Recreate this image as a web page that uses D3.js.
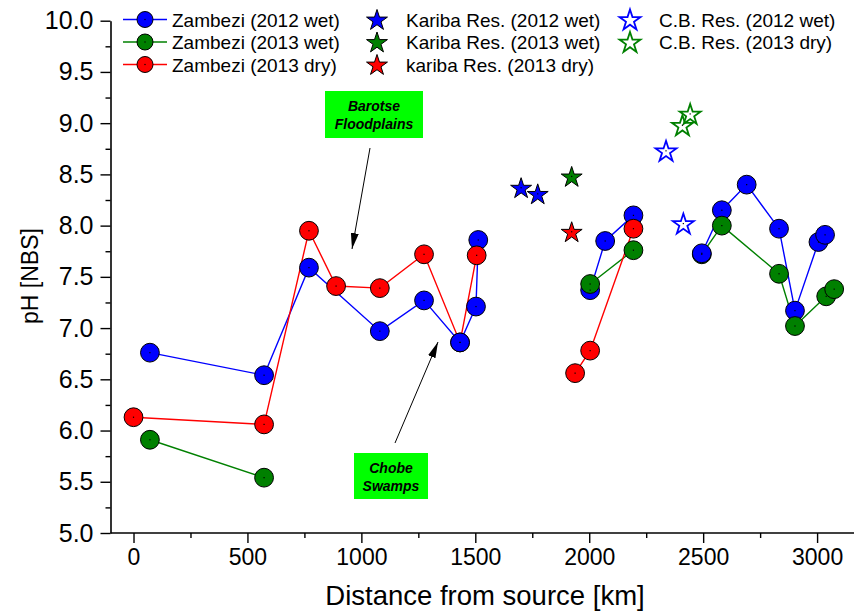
<!DOCTYPE html>
<html>
<head>
<meta charset="utf-8">
<script src="https://cdn.jsdelivr.net/npm/d3@7"></script>
<style>
    body { margin: 0; background: #fff; }
    text { font-family: "Liberation Sans", Arial, sans-serif; }
</style>
</head>
<body>
<div id="chart"></div>
<script>
// Zambezi river transects (null = break in the line)
let blueKm = [72, 573, 770, 1081, 1275, 1433, 1503, 1513, null, 2004, 2070, 2194, null, 2494, 2582, 2691, 2833, 2903, 3006, 3035];
let bluePh = [6.76, 6.54, 7.59, 6.97, 7.27, 6.86, 7.21, 7.86, null, 7.37, 7.85, 8.10, null, 7.73, 8.15, 8.40, 7.97, 7.17, 7.84, 7.91];

let greenKm = [72, 573, null, 2004, 2194, null, 2494, 2582, 2833, 2903, 3040, 3075];
let greenPh = [5.91, 5.54, null, 7.43, 7.76, null, 7.72, 8.00, 7.53, 7.02, 7.31, 7.38];

let redKm = [0, 573, 770, 889, 1081, 1275, 1433, 1506, null, 1938, 2004, 2194];
let redPh = [6.13, 6.06, 7.95, 7.41, 7.39, 7.72, 6.86, 7.71, null, 6.56, 6.78, 7.97];

// Reservoirs
let kariba2012WetKm = [1701, 1774];
let kariba2012WetPh = [8.37, 8.31];
let kariba2013WetKm = [1923];
let kariba2013WetPh = [8.48];
let kariba2013DryKm = [1923];
let kariba2013DryPh = [7.94];
let cb2012WetKm = [2337, 2413];
let cb2012WetPh = [8.73, 8.02];
let cb2013DryKm = [2409, 2443];
let cb2013DryPh = [8.98, 9.09];

let xTicks = [0, 500, 1000, 1500, 2000, 2500, 3000];
let xMinor = [250, 750, 1250, 1750, 2250, 2750];
let yTicks = [5.0, 5.5, 6.0, 6.5, 7.0, 7.5, 8.0, 8.5, 9.0, 9.5, 10.0];
let yMinor = [5.25, 5.75, 6.25, 6.75, 7.25, 7.75, 8.25, 8.75, 9.25, 9.75];

let legendCircles = ["Zambezi (2012 wet)", "Zambezi (2013 wet)", "Zambezi (2013 dry)"];
let legendKariba = ["Kariba Res. (2012 wet)", "Kariba Res. (2013 wet)", "kariba Res. (2013 dry)"];
let legendCB = ["C.B. Res. (2012 wet)", "C.B. Res. (2013 dry)"];

function drawChart() {

    let plotWidth = 854;
    let plotHeight = 613;

    let blue = "#0000ff", green = "#008000", red = "#ff0000";

    let svg = d3.select("#chart")
        .append("svg")
        .attr("width", plotWidth)
        .attr("height", plotHeight);

    let xScale = d3.scaleLinear()
        .domain([-101, 3162])
        .range([110.5, 854]);

    let yScale = d3.scaleLinear()
        .domain([5, 10])
        .range([533, 20.7]);

    // axes
    let xAxis = svg.append("g")
        .attr("transform", `translate(0, ${yScale(5)})`)
        .call(d3.axisBottom(xScale).tickValues(xTicks).tickSize(10).tickPadding(6).tickFormat(d3.format("d")));
    svg.append("g")
        .attr("transform", `translate(0, ${yScale(5)})`)
        .call(d3.axisBottom(xScale).tickValues(xMinor).tickSize(5).tickFormat(""))
        .select(".domain").remove();

    let yAxis = svg.append("g")
        .attr("transform", `translate(${xScale.range()[0]}, 0)`)
        .call(d3.axisLeft(yScale).tickValues(yTicks).tickSize(10).tickPadding(7).tickFormat(d3.format(".1f")).tickSizeOuter(0));
    svg.append("g")
        .attr("transform", `translate(${xScale.range()[0]}, 0)`)
        .call(d3.axisLeft(yScale).tickValues(yMinor).tickSize(5).tickFormat(""))
        .select(".domain").remove();

    svg.selectAll(".domain").attr("stroke-width", 1.6);
    svg.selectAll(".tick line").attr("stroke-width", 1.4);

    xAxis.select(".domain").attr("d", `M${xScale.range()[0]},0H${xScale.range()[1]}`);
    xAxis.selectAll(".tick text")
        .attr("font-size", "23px")
        .attr("font-family", "'Liberation Sans', Arial, sans-serif")
        .attr("fill", "#000");
    yAxis.selectAll(".tick text")
        .attr("font-size", "25px")
        .attr("font-family", "'Liberation Sans', Arial, sans-serif")
        .attr("fill", "#000");

    svg.append("text")
        .attr("x", 485)
        .attr("y", 605)
        .attr("text-anchor", "middle")
        .attr("font-size", "27.5px")
        .text("Distance from source [km]");

    svg.append("text")
        .attr("transform", "translate(38, 276) rotate(-90)")
        .attr("text-anchor", "middle")
        .attr("font-size", "23px")
        .text("pH [NBS]");

    // lines
    let line = d3.line()
        .defined(d => d[0] !== null)
        .x(d => xScale(d[0]))
        .y(d => yScale(d[1]));

    let series = [
        {km: blueKm, ph: bluePh, color: blue},
        {km: greenKm, ph: greenPh, color: green},
        {km: redKm, ph: redPh, color: red}
    ];

    series.forEach(function(s) {
        svg.append("path")
            .datum(s.km.map((k, i) => [k, s.ph[i]]))
            .attr("d", line)
            .attr("fill", "none")
            .attr("stroke", s.color)
            .attr("stroke-width", 1.4);
    });

    // circles: green/red points sitting on a blue point go underneath
    let bluePts = [];
    blueKm.forEach((k, i) => { if (k !== null) bluePts.push({km: k, ph: bluePh[i], color: blue}); });
    let under = [], over = [];
    series.slice(1).forEach(function(s) {
        s.km.forEach(function(k, i) {
            if (k === null) return;
            let p = {km: k, ph: s.ph[i], color: s.color};
            let hidden = bluePts.some(b => Math.abs(b.km - k) < 5 && Math.abs(b.ph - p.ph) < 0.05);
            (hidden ? under : over).push(p);
        });
    });
    let allPts = under.concat(bluePts, over);

    svg.append("g").selectAll("circle")
        .data(allPts)
        .enter()
        .append("circle")
        .attr("cx", d => xScale(d.km))
        .attr("cy", d => yScale(d.ph))
        .attr("r", 9.4)
        .attr("fill", d => d.color)
        .attr("stroke", "#000")
        .attr("stroke-width", 1);

    // stars
    let star = d3.symbol().type(d3.symbolStar).size(136);
    let stars = [
        {km: kariba2012WetKm, ph: kariba2012WetPh, color: blue, open: false},
        {km: kariba2013WetKm, ph: kariba2013WetPh, color: green, open: false},
        {km: kariba2013DryKm, ph: kariba2013DryPh, color: red, open: false},
        {km: cb2012WetKm, ph: cb2012WetPh, color: blue, open: true},
        {km: cb2013DryKm, ph: cb2013DryPh, color: green, open: true}
    ];
    let starPts = [];
    stars.forEach(s => s.km.forEach((k, i) => starPts.push({km: k, ph: s.ph[i], color: s.color, open: s.open})));

    svg.append("g").selectAll("path")
        .data(starPts)
        .enter()
        .append("path")
        .attr("d", star)
        .attr("transform", d => `translate(${xScale(d.km)}, ${yScale(d.ph) + 1})`)
        .attr("fill", d => d.open ? "#fff" : d.color)
        .attr("stroke", d => d.open ? d.color : "#000")
        .attr("stroke-width", d => d.open ? 1.8 : 1);

    // centre dots
    svg.append("g").selectAll("rect")
        .data(allPts.concat(starPts))
        .enter()
        .append("rect")
        .attr("x", d => xScale(d.km) - 0.6)
        .attr("y", d => yScale(d.ph) - 0.6)
        .attr("width", 1.2)
        .attr("height", 1.2)
        .attr("fill", "#000");

    // annotations
    let notes = [
        {x: 325, y: 91, w: 98, h: 47, lines: ["Barotse", "Floodplains"], from: [370, 148], to: [352, 249]},
        {x: 354, y: 453, w: 74, h: 46, lines: ["Chobe", "Swamps"], from: [395, 443], to: [438, 342]}
    ];
    svg.append("defs").append("marker")
        .attr("id", "head")
        .attr("viewBox", "0 0 16 8")
        .attr("refX", 16)
        .attr("refY", 4)
        .attr("markerWidth", 16)
        .attr("markerHeight", 8)
        .attr("markerUnits", "userSpaceOnUse")
        .attr("orient", "auto")
        .append("path")
        .attr("d", "M0,0L16,4L0,8Z")
        .attr("fill", "#000");

    notes.forEach(function(n) {
        svg.append("rect")
            .attr("x", n.x).attr("y", n.y)
            .attr("width", n.w).attr("height", n.h)
            .attr("fill", "#00ff00");
        n.lines.forEach(function(t, i) {
            svg.append("text")
                .attr("x", n.x + n.w / 2)
                .attr("y", n.y + 20 + i * 18)
                .attr("text-anchor", "middle")
                .attr("font-size", "14px")
                .attr("font-weight", "bold")
                .attr("font-style", "italic")
                .text(t);
        });
        svg.append("line")
            .attr("x1", n.from[0]).attr("y1", n.from[1])
            .attr("x2", n.to[0]).attr("y2", n.to[1])
            .attr("stroke", "#000")
            .attr("stroke-width", 1)
            .attr("marker-end", "url(#head)");
    });

    // legend
    let rows = [19.5, 42, 64.5];
    let legendColors = [blue, green, red];
    let legend = svg.append("g");

    legendCircles.forEach(function(t, i) {
        legend.append("line")
            .attr("x1", 123).attr("x2", 167)
            .attr("y1", rows[i]).attr("y2", rows[i])
            .attr("stroke", legendColors[i]).attr("stroke-width", 1.4);
        legend.append("circle")
            .attr("cx", 145).attr("cy", rows[i]).attr("r", 8)
            .attr("fill", legendColors[i]).attr("stroke", "#000");
        legend.append("rect")
            .attr("x", 144.4).attr("y", rows[i] - 0.6)
            .attr("width", 1.2).attr("height", 1.2).attr("fill", "#000");
        legend.append("text")
            .attr("x", 172).attr("y", rows[i] + 7)
            .attr("font-size", "19px")
            .text(t);
    });

    legendKariba.forEach(function(t, i) {
        legend.append("path")
            .attr("d", star)
            .attr("transform", `translate(377, ${rows[i] + 1})`)
            .attr("fill", legendColors[i]).attr("stroke", "#000");
        legend.append("text")
            .attr("x", 406).attr("y", rows[i] + 7)
            .attr("font-size", "19px")
            .text(t);
    });

    legendCB.forEach(function(t, i) {
        legend.append("path")
            .attr("d", star)
            .attr("transform", `translate(630, ${rows[i] + 1})`)
            .attr("fill", "#fff").attr("stroke", legendColors[i]).attr("stroke-width", 1.8);
        legend.append("text")
            .attr("x", 659).attr("y", rows[i] + 7)
            .attr("font-size", "19px")
            .text(t);
    });
}

drawChart();
</script>
</body>
</html>
